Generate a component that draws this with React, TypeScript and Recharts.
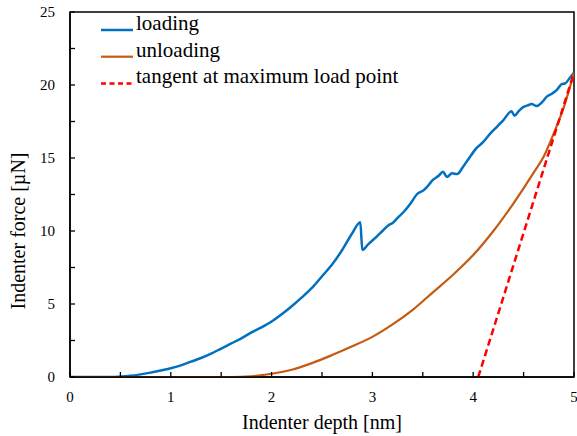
import { LineChart, Line, XAxis, YAxis, ReferenceArea, Legend, Label } from 'recharts';

// Indentation curve: depth [nm] vs force [µN]
const loadDepth = [
  0, 0.45, 0.6, 0.7, 0.8, 0.9, 1.0, 1.1, 1.2, 1.3, 1.4, 1.5, 1.6, 1.7, 1.8, 1.9, 2.0,
  2.1, 2.2, 2.3, 2.4, 2.5, 2.6, 2.7, 2.8, 2.88, 2.9, 2.96,
  3.04, 3.1, 3.16, 3.2, 3.25, 3.31, 3.38, 3.44, 3.51, 3.54, 3.6, 3.66, 3.7, 3.74, 3.79,
  3.84, 3.9, 3.96, 4.03, 4.1, 4.16, 4.23, 4.3, 4.38, 4.41, 4.45, 4.5, 4.54, 4.58, 4.63,
  4.68, 4.73, 4.78, 4.83, 4.88, 4.91, 4.96, 5.0,
];
const loadForce = [
  0, 0, 0.08, 0.18, 0.3, 0.45, 0.6, 0.8, 1.05, 1.3, 1.6, 1.95, 2.3, 2.65, 3.05, 3.4, 3.8,
  4.3, 4.85, 5.45, 6.1, 6.9, 7.7, 8.7, 9.85, 10.6, 8.7, 9.1,
  9.6, 10.0, 10.4, 10.55, 10.9, 11.3, 11.9, 12.5, 12.8, 13.0, 13.5, 13.8, 14.06, 13.7, 13.95,
  13.9, 14.4, 15.0, 15.66, 16.1, 16.6, 17.1, 17.6, 18.2, 17.9, 18.2, 18.5, 18.6, 18.7, 18.56,
  18.8, 19.2, 19.4, 19.66, 20.07, 20.1, 20.5, 20.84,
];

const unloadDepth = [0, 1.6, 1.8, 2.0, 2.2, 2.4, 2.6, 2.8, 3.0, 3.2, 3.4, 3.6, 3.8, 4.0, 4.2, 4.4, 4.6, 4.7, 4.8, 4.9, 5.0];
const unloadForce = [0, 0, 0.05, 0.22, 0.5, 0.95, 1.5, 2.1, 2.75, 3.6, 4.6, 5.8, 7.0, 8.35, 10.0, 11.9, 14.0, 15.1, 16.7, 18.5, 20.84];

const tangentDepth = [4.05, 5.0];
const tangentForce = [0, 20.84];

const xTicks = [0, 0.5, 1, 1.5, 2, 2.5, 3, 3.5, 4, 4.5, 5];
const yTicks = [0, 2.5, 5, 7.5, 10, 12.5, 15, 17.5, 20, 22.5, 25];

const legendLabels = ['loading', 'unloading', 'tangent at maximum load point'];
const seriesColors = ['#0070C0', '#C55A11', '#FF0000'];

const zip = (d: number[], f: number[]) => d.map((v, i) => ({ d: v, f: f[i] }));
const loadingData = zip(loadDepth, loadForce);
const unloadingData = zip(unloadDepth, unloadForce);
const tangentData = zip(tangentDepth, tangentForce);

const FONT = "'Liberation Serif', 'Times New Roman', serif";
const serif = { fontFamily: FONT };
const TICK_LEN = 5;

// Inside-pointing tick marks; only whole values get a label
function XTick(props: any) {
  const { x, y, payload } = props;
  const axisY = y - 14;
  const v = payload.value as number;
  return (
    <g>
      <line x1={x} x2={x} y1={axisY} y2={axisY - TICK_LEN} stroke="#000" strokeWidth={1.3} />
      {Number.isInteger(v) && (
        <text x={x} y={y} dy="0.71em" textAnchor="middle" fontSize={15} style={serif} fill="#000">
          {v}
        </text>
      )}
    </g>
  );
}

function YTick(props: any) {
  const { x, y, payload } = props;
  const axisX = x + 15;
  const v = payload.value as number;
  return (
    <g>
      <line x1={axisX} x2={axisX + TICK_LEN} y1={y} y2={y} stroke="#000" strokeWidth={1.3} />
      {v % 5 === 0 && (
        <text x={x} y={y} dy="0.355em" textAnchor="end" fontSize={15} style={serif} fill="#000">
          {v}
        </text>
      )}
    </g>
  );
}

function ChartLegend() {
  return (
    <svg width={420} height={100} style={{ display: 'block' }}>
      {legendLabels.map((label, i) => {
        const y = 30 + i * 26.7;
        return (
          <g key={label}>
            <line
              x1={101}
              x2={133}
              y1={y}
              y2={y}
              stroke={seriesColors[i]}
              strokeWidth={i === 1 ? 2.2 : 2.5}
              strokeDasharray={i === 2 ? '5 3.5' : undefined}
            />
            <text x={136} y={y} fontSize={21} style={serif} fill="#000">
              {label}
            </text>
          </g>
        );
      })}
    </svg>
  );
}

export default function App() {
  return (
    <div style={{ position: 'absolute', left: 0, top: 0, width: 577, height: 436, background: '#fff', fontFamily: FONT }}>
      <LineChart width={577} height={436} margin={{ top: 12, right: 3, bottom: 0, left: 0 }}>
        <XAxis
          dataKey="d"
          type="number"
          domain={[0, 5]}
          ticks={xTicks}
          interval={0}
          allowDataOverflow
          height={59}
          tickSize={0}
          tickMargin={14}
          tickLine={false}
          axisLine={{ stroke: '#000', strokeWidth: 1.5 }}
          tick={XTick}
        >
          <Label
            content={(p: any) => (
              <text
                x={p.viewBox.x + p.viewBox.width / 2}
                y={p.viewBox.y + 52}
                textAnchor="middle"
                fontSize={20}
                style={serif}
                fill="#000"
              >
                Indenter depth [nm]
              </text>
            )}
          />
        </XAxis>
        <YAxis
          type="number"
          domain={[0, 25]}
          ticks={yTicks}
          interval={0}
          allowDataOverflow
          width={70}
          tickSize={0}
          tickMargin={15}
          tickLine={false}
          axisLine={{ stroke: '#000', strokeWidth: 1.5 }}
          tick={YTick}
        >
          <Label
            content={() => (
              <text
                x={18}
                y={231}
                transform="rotate(-90 18 231)"
                textAnchor="middle"
                dominantBaseline="central"
                fontSize={20}
                style={serif}
                fill="#000"
              >
                Indenter force [µN]
              </text>
            )}
          />
        </YAxis>
        {/* frame round the plot area */}
        <ReferenceArea x1={0} x2={5} y1={0} y2={25} fill="none" stroke="#000" strokeWidth={1.5} />
        <Legend
          layout="vertical"
          align="center"
          verticalAlign="middle"
          wrapperStyle={{ left: 0, top: 0, width: 420, height: 100 }}
          content={<ChartLegend />}
        />
        <Line
          data={loadingData}
          dataKey="f"
          type="monotone"
          stroke={seriesColors[0]}
          strokeWidth={2.5}
          dot={false}
          isAnimationActive={false}
        />
        <Line
          data={unloadingData}
          dataKey="f"
          type="monotone"
          stroke={seriesColors[1]}
          strokeWidth={2.2}
          dot={false}
          isAnimationActive={false}
        />
        <Line
          data={tangentData}
          dataKey="f"
          type="linear"
          stroke={seriesColors[2]}
          strokeWidth={2.5}
          strokeDasharray="7 4"
          dot={false}
          isAnimationActive={false}
        />
      </LineChart>
    </div>
  );
}
